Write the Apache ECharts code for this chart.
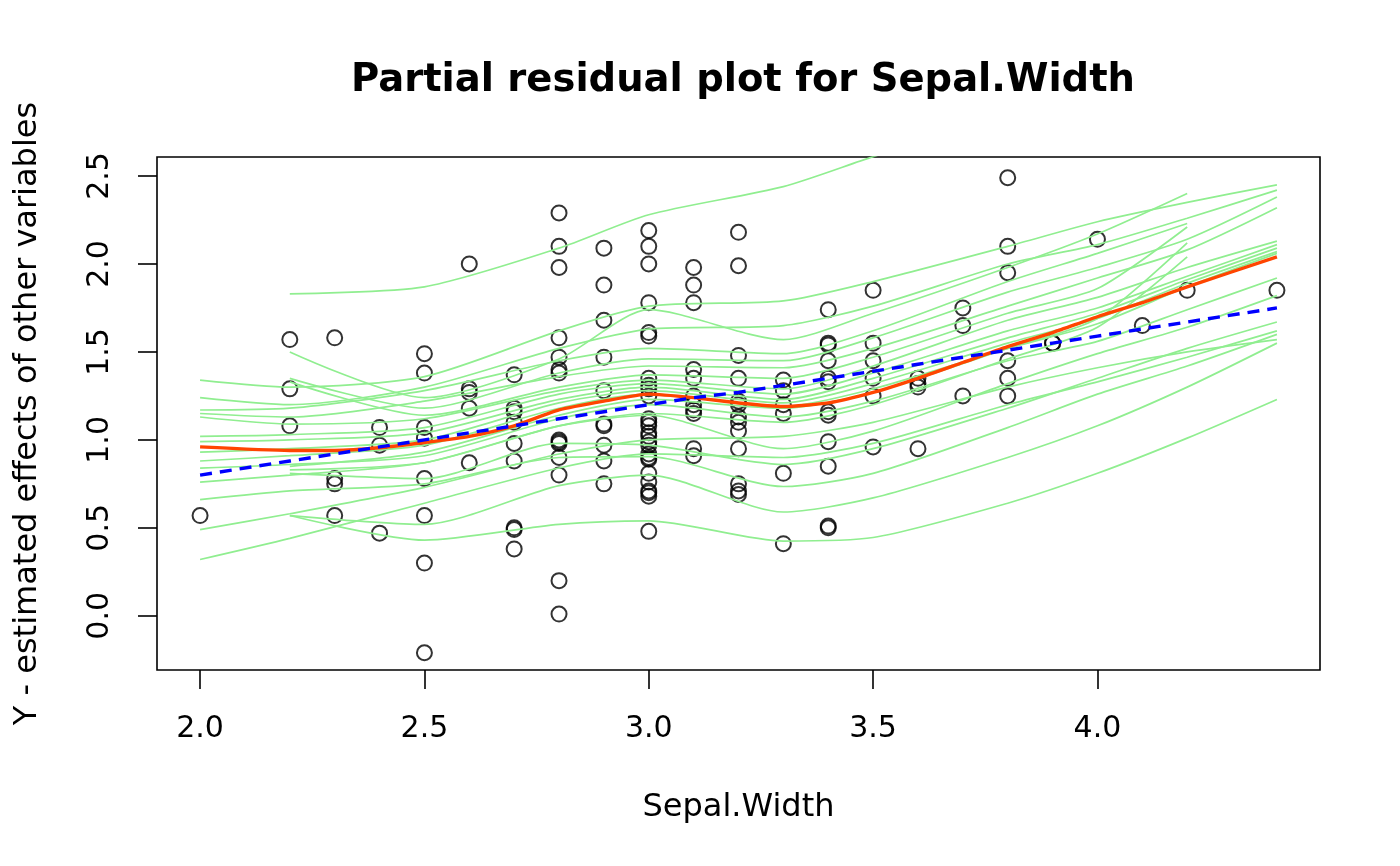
<!DOCTYPE html>
<html><head><meta charset="utf-8">
<script src="https://cdn.jsdelivr.net/npm/echarts@6/dist/echarts.min.js"></script>
<style>html,body{margin:0;padding:0;background:#fff}#c{width:1400px;height:866px}</style>
</head><body><div id="c"></div>
<script>
// ---- tick labels ----
const xTicks = [2.0, 2.5, 3.0, 3.5, 4.0];
const yTicks = [0.0, 0.5, 1.0, 1.5, 2.0, 2.5];

// ---- partial residuals, grouped by Sepal.Width ----
const sepalWidths = [2.0, 2.2, 2.3, 2.4, 2.5, 2.6, 2.7, 2.8, 2.9, 3.0, 3.1, 3.2, 3.3, 3.4, 3.5, 3.6, 3.7, 3.8, 3.9, 4.0, 4.1, 4.2, 4.4];
const res20 = [0.57];
const res22 = [1.57, 1.29, 1.08];
const res23 = [1.58, 0.78, 0.75, 0.57];
const res24 = [1.07, 0.97, 0.47];
const res25 = [1.49, 1.38, 1.07, 1.01, 0.78, 0.57, 0.30, -0.21];
const res26 = [2.00, 1.29, 1.27, 1.18, 0.87];
const res27 = [1.37, 1.18, 1.16, 1.10, 0.98, 0.88, 0.50, 0.49, 0.38];
const res28 = [2.29, 2.10, 1.98, 1.58, 1.47, 1.40, 1.38, 1.00, 0.99, 0.98, 0.90, 0.80, 0.20, 0.01];
const res29 = [2.09, 1.88, 1.68, 1.47, 1.28, 1.09, 1.08, 0.97, 0.88, 0.75];
const res30 = [2.19, 2.10, 2.00, 1.78, 1.61, 1.59, 1.35, 1.31, 1.29, 1.25, 1.12, 1.10, 1.08, 1.04, 1.02, 0.99, 0.97, 0.92, 0.90, 0.89, 0.81, 0.76, 0.71, 0.70, 0.68, 0.48];
const res31 = [1.98, 1.88, 1.78, 1.40, 1.35, 1.25, 1.20, 1.17, 1.15, 0.95, 0.91];
const res32 = [2.18, 1.99, 1.48, 1.35, 1.22, 1.20, 1.13, 1.10, 1.05, 0.95, 0.75, 0.71, 0.69];
const res33 = [1.34, 1.28, 1.20, 1.15, 0.81, 0.41];
const res34 = [1.74, 1.55, 1.54, 1.45, 1.35, 1.33, 1.16, 1.14, 0.99, 0.85, 0.51, 0.50];
const res35 = [1.85, 1.55, 1.45, 1.35, 1.25, 0.96];
const res36 = [1.35, 1.32, 1.30, 0.95];
const res37 = [1.75, 1.65, 1.25];
const res38 = [2.49, 2.10, 1.95, 1.45, 1.35, 1.25];
const res39 = [1.55, 1.55];
const res40 = [2.14];
const res41 = [1.65];
const res42 = [1.85];
const res44 = [1.85];
const residualGroups = [res20,res22,res23,res24,res25,res26,res27,res28,res29,res30,res31,res32,res33,res34,res35,res36,res37,res38,res39,res40,res41,res42,res44];

// ---- fitted curves at each unique Sepal.Width ----
const smoothFit = [0.96, 0.94, 0.94, 0.955, 0.985, 1.02, 1.08, 1.17, 1.22, 1.26, 1.24, 1.21, 1.19, 1.21, 1.27, 1.35, 1.44, 1.53, 1.61, 1.70, 1.78, 1.87, 2.04];
const linearFit = [0.80, 0.88, 0.92, 0.96, 1.00, 1.04, 1.08, 1.12, 1.16, 1.20, 1.24, 1.27, 1.31, 1.35, 1.39, 1.43, 1.47, 1.51, 1.55, 1.59, 1.63, 1.67, 1.75];

// ---- bootstrap smooths (read at these Sepal.Width values) ----
const bootX = [2.0, 2.2, 2.5, 2.8, 3.0, 3.3, 3.5, 3.8, 4.0, 4.2, 4.4];
const boot01 = [null, 1.83, 1.87, 2.09, 2.28, 2.44, 2.61, 2.85, null, null, null];
const boot02 = [1.34, 1.30, 1.36, 1.62, 1.76, 1.79, 1.90, 2.10, 2.24, 2.35, 2.45];
const boot03 = [null, 1.50, 1.24, 1.46, 1.74, 1.57, 1.72, 1.98, 2.17, 2.40, null];
const boot04 = [1.24, 1.20, 1.30, 1.52, 1.63, 1.65, 1.76, 2.00, 2.11, 2.26, 2.42];
const boot05 = [1.17, 1.18, 1.28, 1.45, 1.52, 1.49, 1.62, 1.90, 2.06, 2.23, null];
const boot06 = [null, 1.35, 1.18, 1.38, 1.46, 1.45, 1.58, 1.84, 1.98, 2.14, 2.38];
const boot07 = [1.15, 1.13, 1.22, 1.36, 1.42, 1.41, 1.52, 1.76, 1.92, 2.08, 2.32];
const boot08 = [null, 1.33, 1.14, 1.30, 1.37, 1.35, 1.47, 1.72, 1.86, 2.21, null];
const boot09 = [1.13, 1.09, 1.12, 1.28, 1.34, 1.29, 1.42, 1.68, 1.81, 1.98, 2.13];
const boot10 = [1.02, 1.03, 1.07, 1.26, 1.32, 1.26, 1.38, 1.62, 1.75, 1.93, 2.11];
const boot11 = [0.99, 1.00, 1.04, 1.23, 1.30, 1.23, 1.35, 1.58, 1.72, 1.91, 2.09];
const boot12 = [0.93, 0.95, 1.00, 1.21, 1.28, 1.21, 1.32, 1.55, 1.69, 1.89, 2.07];
const boot13 = [0.88, 0.91, 0.97, 1.18, 1.26, 1.19, 1.29, 1.52, 1.66, 1.87, 2.06];
const boot14 = [null, 0.85, 0.93, 1.14, 1.23, 1.18, 1.27, 1.52, 1.69, 2.12, null];
const boot15 = [0.84, 0.86, 0.91, 1.12, 1.20, 1.13, 1.22, 1.45, 1.56, 1.74, 1.92];
const boot16 = [null, 0.83, 0.87, 1.08, 1.15, 1.10, 1.20, 1.46, 1.64, 2.04, null];
const boot17 = [0.76, 0.80, 0.87, 1.08, 1.14, 0.95, 1.05, 1.32, 1.49, 1.64, 1.82];
const boot18 = [null, 0.81, 0.78, 0.98, 0.97, 0.86, 0.95, 1.18, 1.35, 1.52, 1.67];
const boot19 = [0.66, 0.71, 0.75, 0.90, 0.905, 0.735, 0.81, 1.07, 1.26, 1.42, 1.60];
const boot20 = [0.49, 0.58, 0.73, 0.92, 1.00, 1.02, 1.10, 1.30, 1.41, 1.50, 1.57];
const boot21 = [0.32, 0.44, 0.64, 0.84, 0.92, 0.90, 0.98, 1.20, 1.33, 1.47, 1.62];
const boot22 = [null, 0.57, 0.52, 0.74, 0.80, 0.59, 0.67, 0.90, 1.08, 1.30, 1.55];
const boot23 = [null, 0.57, 0.43, 0.52, 0.54, 0.425, 0.445, 0.64, 0.81, 1.01, 1.23];
const bootCurves = [boot01,boot02,boot03,boot04,boot05,boot06,boot07,boot08,boot09,boot10,boot11,boot12,boot13,boot14,boot15,boot16,boot17,boot18,boot19,boot20,boot21,boot22,boot23];

const FONT = 'DejaVu Sans';
const xMin = 1.904, xMax = 4.496, yMin = -0.308, yMax = 2.608;

const points = [];
residualGroups.forEach((g, i) => g.forEach(v => points.push([sepalWidths[i], v])));

const series = [];
series.push({
  type: 'scatter', data: points, symbol: 'circle', symbolSize: 15, z: 2, silent: true,
  itemStyle: { color: 'rgba(0,0,0,0)', borderColor: '#000', borderWidth: 2 }
});
bootCurves.forEach(c => {
  const d = [];
  bootX.forEach((x, i) => { if (c[i] !== null) d.push([x, c[i]]); });
  series.push({
    type: 'line', data: d, showSymbol: false, smooth: 0.25, clip: true, silent: true, z: 3,
    lineStyle: { color: '#90EE90', width: 1.7 }
  });
});
series.push({
  type: 'line', data: sepalWidths.map((x, i) => [x, smoothFit[i]]), showSymbol: false, smooth: 0.2, z: 4, silent: true,
  lineStyle: { color: '#FF4500', width: 3.4 }
});
series.push({
  type: 'line', data: sepalWidths.map((x, i) => [x, linearFit[i]]), showSymbol: false, z: 5, silent: true,
  lineStyle: { color: '#0000FF', width: 3.4, type: [12, 8] }
});

const chart = echarts.init(document.getElementById('c'));
chart.setOption({
  animation: false,
  backgroundColor: '#fff',
  title: {
    text: 'Partial residual plot for Sepal.Width', left: 738, top: 56, textAlign: 'center',
    textStyle: { fontFamily: FONT, fontSize: 38.5, fontWeight: 'bold', color: '#000' }
  },
  grid: { left: 157, right: 80, top: 157, bottom: 196, show: true, borderColor: '#000', borderWidth: 1.6, backgroundColor: 'rgba(0,0,0,0)' },
  xAxis: {
    type: 'value', min: xMin, max: xMax,
    axisLine: { show: false, onZero: false }, splitLine: { show: false },
    axisTick: { show: true, customValues: xTicks, length: 19, lineStyle: { color: '#000', width: 1.6 } },
    axisLabel: { customValues: xTicks, formatter: v => v.toFixed(1), fontFamily: FONT, fontSize: 30, color: '#000', margin: 44 },
    name: 'Sepal.Width', nameLocation: 'middle', nameGap: 122,
    nameTextStyle: { fontFamily: FONT, fontSize: 32, color: '#000' }
  },
  yAxis: {
    type: 'value', min: yMin, max: yMax,
    axisLine: { show: false, onZero: false }, splitLine: { show: false },
    axisTick: { show: true, customValues: yTicks, length: 19, lineStyle: { color: '#000', width: 1.6 } },
    axisLabel: { customValues: yTicks, formatter: v => v.toFixed(1), rotate: 90, fontFamily: FONT, fontSize: 30, color: '#000', margin: 42 },
    name: 'Y - estimated effects of other variables', nameLocation: 'middle', nameRotate: 90, nameGap: 113,
    nameTextStyle: { fontFamily: FONT, fontSize: 32, color: '#000' }
  },
  series: series
});
</script></body></html>
